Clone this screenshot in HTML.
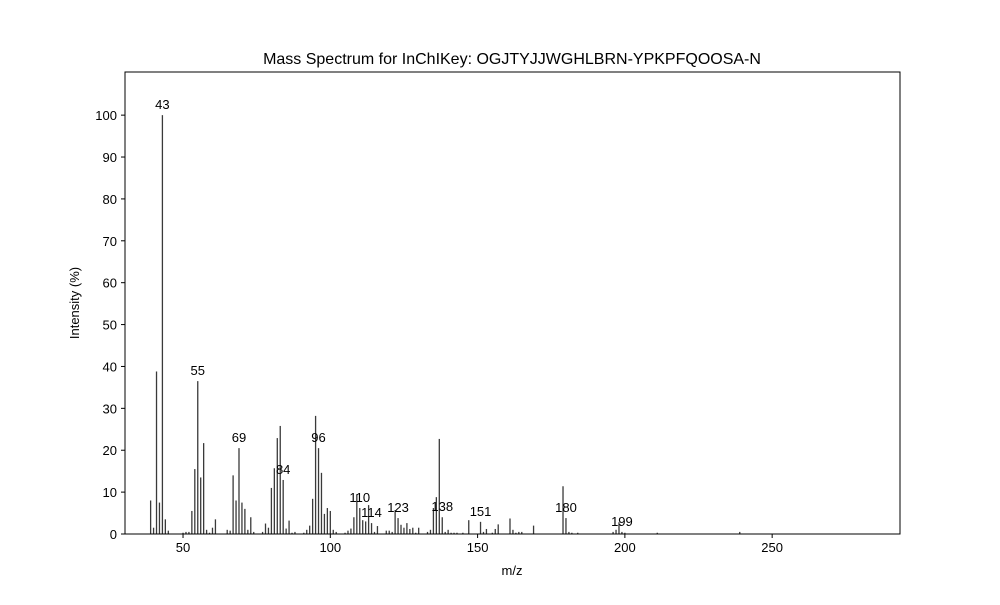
<!DOCTYPE html>
<html><head><meta charset="utf-8"><style>
body{margin:0;background:#fff;font-family:"Liberation Sans","DejaVu Sans",sans-serif}
</style></head><body>
<svg width="1000" height="600" xmlns="http://www.w3.org/2000/svg">
<rect width="1000" height="600" fill="#fff"/>
<text x="512" y="64" text-anchor="middle" font-size="16">Mass Spectrum for InChIKey: OGJTYJJWGHLBRN-YPKPFQOOSA-N</text>
<g id="bars"></g>
<g id="labels"></g>
<g id="axes"></g>
<rect x="125" y="72" width="775" height="462" fill="none" stroke="#000" stroke-width="1"/>
<text x="512" y="575" text-anchor="middle" font-size="13">m/z</text>
<text x="79" y="303" text-anchor="middle" font-size="13" transform="rotate(-90 79 303)">Intensity (%)</text>
</svg>
<script>
const mz = [39,40,41,42,43,44,45,50,51,52,53,54,55,56,57,58,59,60,61,65,66,67,68,69,70,71,72,73,74,77,78,79,80,81,82,83,84,85,86,87,88,91,92,93,94,95,96,97,98,99,100,101,102,105,106,107,108,109,110,111,112,113,114,115,116,119,120,121,122,123,124,125,126,127,128,129,130,133,134,135,136,137,138,139,140,141,142,143,145,147,151,152,153,155,156,157,161,162,163,164,165,169,179,180,181,182,184,196,197,198,199,200,211,239,282];
const intensity = [8,1.5,38.8,7.5,100,3.5,0.8,0.3,0.5,0.5,5.5,15.5,36.5,13.5,21.7,1,0.3,1.5,3.5,1,0.8,14,8,20.5,7.5,6,1,4,0.5,0.5,2.5,1.5,11,15.7,22.9,25.8,12.9,1.3,3.2,0.3,0.5,0.3,1,2,8.4,28.2,20.5,14.6,4.8,6.2,5.5,1,0.5,0.3,0.8,1.3,4,9.5,6.2,3.3,3,6.9,2.6,0.5,1.9,0.8,0.8,0.5,5.7,3.8,2.2,1.5,2.6,1.2,1.5,0.3,1.5,0.5,1,6.2,8.8,22.7,4,0.5,1,0.3,0.3,0.3,0.3,3.3,2.9,0.5,1.2,0.3,1.2,2.3,3.7,1,0.3,0.5,0.5,2,11.4,3.8,0.5,0.3,0.3,0.5,1,2.8,0.5,0.3,0.3,0.5];
const labelMz = [43,55,69,84,96,110,114,123,138,151,180,199];
const xTicks = [50,100,150,200,250];
const yTicks = [0,10,20,30,40,50,60,70,80,90,100];
const X0=125,X1=900,Y0=534,Y1=72, XMIN=30.3, XMAX=293.4, YMAX=110.3;
const sx = v => X0 + (v-XMIN)/(XMAX-XMIN)*(X1-X0);
const sy = v => Y0 - v/YMAX*(Y0-Y1);
const NS="http://www.w3.org/2000/svg";
const bars=document.getElementById('bars'), labels=document.getElementById('labels'), axes=document.getElementById('axes');
mz.forEach((m,i)=>{
  const r=document.createElementNS(NS,'rect');
  
  
  const w=1.3;
  r.setAttribute('x',sx(m)-w/2); r.setAttribute('width',w);
  r.setAttribute('y',sy(intensity[i])); r.setAttribute('height',Y0-sy(intensity[i]));
  r.setAttribute('fill','#3a3a3a');
  bars.appendChild(r);
});
labelMz.forEach(m=>{
  const i=mz.indexOf(m);
  const t=document.createElementNS(NS,'text');
  
  
  t.setAttribute('x',sx(m)); t.setAttribute('y',sy(intensity[i])-6);
  t.setAttribute('text-anchor','middle'); t.setAttribute('font-size','13');
  t.textContent=m; labels.appendChild(t);
});
xTicks.forEach(v=>{
  const l=document.createElementNS(NS,'line');
  
  
  l.setAttribute('x1',sx(v)); l.setAttribute('x2',sx(v)); l.setAttribute('y1',Y0); l.setAttribute('y2',Y0+4);
  l.setAttribute('stroke','#000'); axes.appendChild(l);
  const t=document.createElementNS(NS,'text');
  
  
  t.setAttribute('x',sx(v)); t.setAttribute('y',Y0+18); t.setAttribute('text-anchor','middle'); t.setAttribute('font-size','13');
  t.textContent=v; axes.appendChild(t);
});
yTicks.forEach(v=>{
  const l=document.createElementNS(NS,'line');
  
  
  l.setAttribute('x1',X0-4); l.setAttribute('x2',X0); l.setAttribute('y1',sy(v)); l.setAttribute('y2',sy(v));
  l.setAttribute('stroke','#000'); axes.appendChild(l);
  const t=document.createElementNS(NS,'text');
  
  
  t.setAttribute('x',X0-8); t.setAttribute('y',sy(v)+5); t.setAttribute('text-anchor','end'); t.setAttribute('font-size','13');
  t.textContent=v; axes.appendChild(t);
});
</script>
</body></html>
